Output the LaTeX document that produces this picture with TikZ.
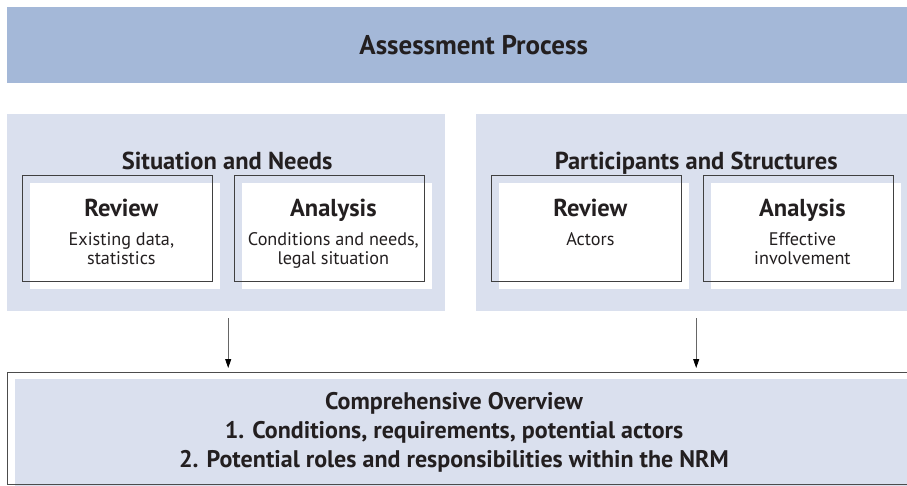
\documentclass[tikz,border=0pt]{standalone}
\usepackage{fontspec}
\setmainfont{PT Sans}
\usepackage{tikz}
\usetikzlibrary{arrows.meta,positioning,calc}
\definecolor{bandblue}{HTML}{A4B8D8}
\definecolor{panelblue}{HTML}{DAE0EE}
\definecolor{inkgray}{HTML}{231F20}
\tikzset{
  band/.style={fill=bandblue, inner sep=0pt},
  panel/.style={fill=panelblue, inner sep=0pt},
  frame/.style={draw=black!75, line width=0.8pt, inner sep=0pt, minimum width=190pt, minimum height=106pt},
  card/.style={fill=white},
  titletxt/.style={font=\bfseries\fontsize{27}{32}\selectfont, text=inkgray, inner sep=0pt},
  headtxt/.style={font=\bfseries\fontsize{24.5}{29}\selectfont, text=inkgray, inner sep=0pt},
  bodytxt/.style={font=\fontsize{18.2}{19.5}\selectfont, text=inkgray, inner sep=0pt, align=center},
  overtxt/.style={font=\bfseries\fontsize{24}{29}\selectfont, text=inkgray, inner sep=0pt, align=center},
  arrow/.style={-{Triangle[length=9pt,width=6pt,color=black]}, draw=black!60, line width=0.8pt},
}

\begin{document}
\begin{tikzpicture}[x=1pt,y=-1pt]
  \useasboundingbox (0,0) rectangle (907,485);
  % title band
  \node[band, anchor=north west, minimum width=933pt, minimum height=76pt] (banner) at (7,7) {};
  \node[titletxt] (banner-txt) at (banner.center) {Assessment Process};

  % the two panels
  \node[panel, anchor=north west, minimum width=438pt, minimum height=197pt] (sitpanel) at (7,114) {};
  \node[panel, anchor=north west, minimum width=440pt, minimum height=197pt] (partpanel) at (476,114) {};
  \node[headtxt, anchor=base] (sitpanel-txt) at ($(sitpanel.north)+(1,55)$) {Situation and Needs};
  \node[headtxt, anchor=base] (partpanel-txt) at ($(partpanel.north)+(0,55)$) {Participants and Structures};

  % boxes: white card shifted, frame on top (\dy = baseline of last body line)
  \foreach \name/\x/\head/\body/\dy in {sitrev/22/Review/{Existing data,\\statistics}/48.5,
                                        sitana/234/Analysis/{Conditions and needs,\\legal situation}/48.5,
                                        partrev/491/Review/{Actors}/29,
                                        partana/703/Analysis/{Effective\\involvement}/48.5}{
    \fill[card] (\x+8,183) rectangle ++(190,106);
    \node[frame, anchor=north west] (\name) at (\x,175) {};
    \node[headtxt, anchor=base] (\name-head) at ($(\name.north)+(4,41)$) {\head};
    \node[bodytxt, anchor=base] (\name-body) at ($(\name-head.base)+(0,\dy)$) {\body};
  }

  % overview
  \fill[panelblue] (15,379) rectangle (925,492);
  \node[draw=black!70, line width=0.8pt, anchor=north west, minimum width=920pt, minimum height=112pt, inner sep=0pt] (overview) at (7,372) {};
  \node[overtxt, anchor=base] (overview-txt) at (454,467)
    {Comprehensive Overview\\1. Conditions, requirements, potential actors\\2. Potential roles and responsibilities within the NRM};

  % arrows
  \coordinate (sitout) at ($(sitpanel.south)+(2,0)$);
  \coordinate (partout) at (partpanel.south);
  \draw[arrow, shorten <=7pt, shorten >=4pt] (sitout) -- (sitout |- overview.north);
  \draw[arrow, shorten <=7pt, shorten >=4pt] (partout) -- (partout |- overview.north);
\end{tikzpicture}
\end{document}
